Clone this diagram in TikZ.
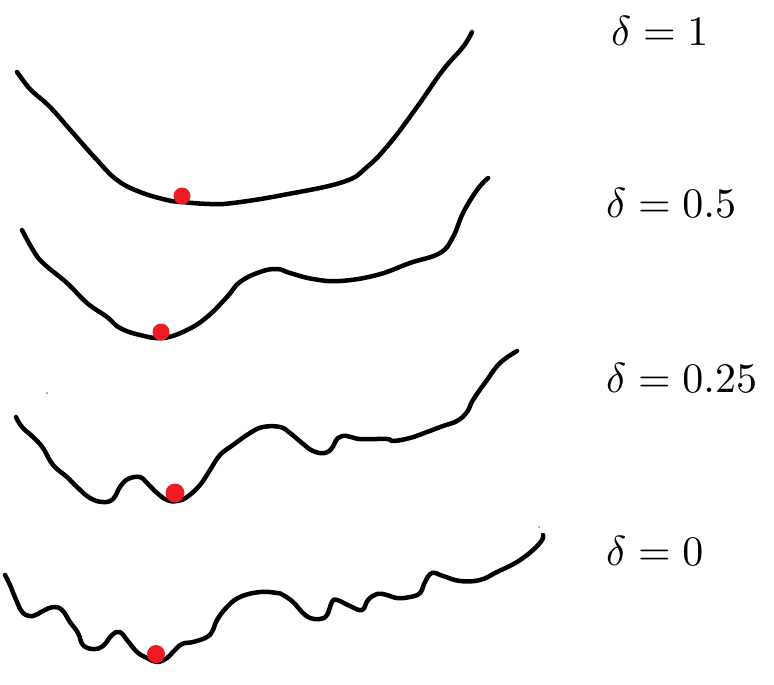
\documentclass[tikz,border=0pt]{standalone}
\usepackage{graphicx}
\definecolor{paintred}{HTML}{ED1C24}
\newcommand{\biglabel}[1]{\scalebox{4.2}{$#1$}}
\tikzset{
  landscape/.style={line width=4.5pt, line cap=round, line join=round, black},
  minimum/.style={circle, fill=paintred, inner sep=0pt, minimum size=17pt},
  speck/.style={circle, fill=gray, inner sep=0pt, minimum size=2pt},
  deltalabel/.style={anchor=base west, inner sep=0pt}
}
\begin{document}
\begin{tikzpicture}[x=1pt, y=-1pt]
\useasboundingbox (0,0) rectangle (774,685);
% delta = 1
\draw[landscape] plot[smooth, tension=0.7] coordinates {(17,72) (25,83) (33,92) (50,107) (73,133) (97,160) (117,180) (140,192) (167,200) (182,202) (210,204) (233,203) (283,195) (343,182) (367,167) (390,143) (417,107) (443,70) (463,47) (472,32)};
% delta = 0.5
\draw[landscape] plot[smooth, tension=0.7] coordinates {(22,230) (33,250) (43,263) (67,283) (87,303) (107,317) (120,328) (140,335) (163,338) (187,330) (207,317) (227,297) (240,282) (260,272) (277,269) (290,273) (313,279) (340,281) (377,275) (410,263) (440,253) (453,237) (463,213) (477,190) (488,178)};
% delta = 0.25
\draw[landscape] plot[smooth, tension=0.7] coordinates {(16,417) (22,427) (33,437) (43,448) (53,465) (67,477) (77,487) (90,498) (103,502) (113,499) (120,487) (128,479) (140,477) (147,483) (157,493) (167,500) (177,501) (187,497) (200,485) (210,470) (220,455) (233,445) (250,433) (263,427) (280,427) (290,433) (302,443) (313,451) (325,453) (332,448) (338,438) (347,436) (360,439) (387,439) (393,441) (410,438) (427,432) (443,426) (457,421) (467,412) (473,400) (487,380) (500,363) (517,351)};
% delta = 0
\draw[landscape] plot[smooth, tension=0.7] coordinates {(5,575) (10,585) (17,602) (23,613) (33,616) (43,611) (53,607) (62,610) (70,622) (78,633) (83,645) (93,649) (103,646) (112,635) (120,632) (127,640) (137,652) (147,658) (157,662) (167,658) (173,652) (182,644) (193,642) (207,637) (213,630) (217,620) (227,607) (240,597) (260,592) (277,593) (283,595) (293,602) (302,612) (310,618) (320,619) (327,615) (332,602) (337,600) (350,606) (362,610) (368,600) (377,594) (387,595) (397,598) (410,597) (420,593) (425,582) (432,573) (443,576) (460,581) (480,580) (497,572) (517,562) (533,550) (542,540) (543,535)};
% minima
\node[minimum] (m1) at (182,196) {};
\node[minimum] (m2) at (161,332) {};
\node[minimum, minimum size=19pt] (m3) at (175,493) {};
\node[minimum, minimum size=18pt] (m4) at (156,654) {};
% specks
\node[speck] (s1) at (47,393) {};
\node[speck] (s2) at (539,527) {};
% labels
\node[deltalabel] (l1) at (611,46) {\biglabel{\delta = 1}};
\node[deltalabel] (l2) at (606,217) {\biglabel{\delta = 0.5}};
\node[deltalabel] (l3) at (606,392) {\biglabel{\delta = 0.25}};
\node[deltalabel] (l4) at (606,565) {\biglabel{\delta = 0}};
\end{tikzpicture}
\end{document}
